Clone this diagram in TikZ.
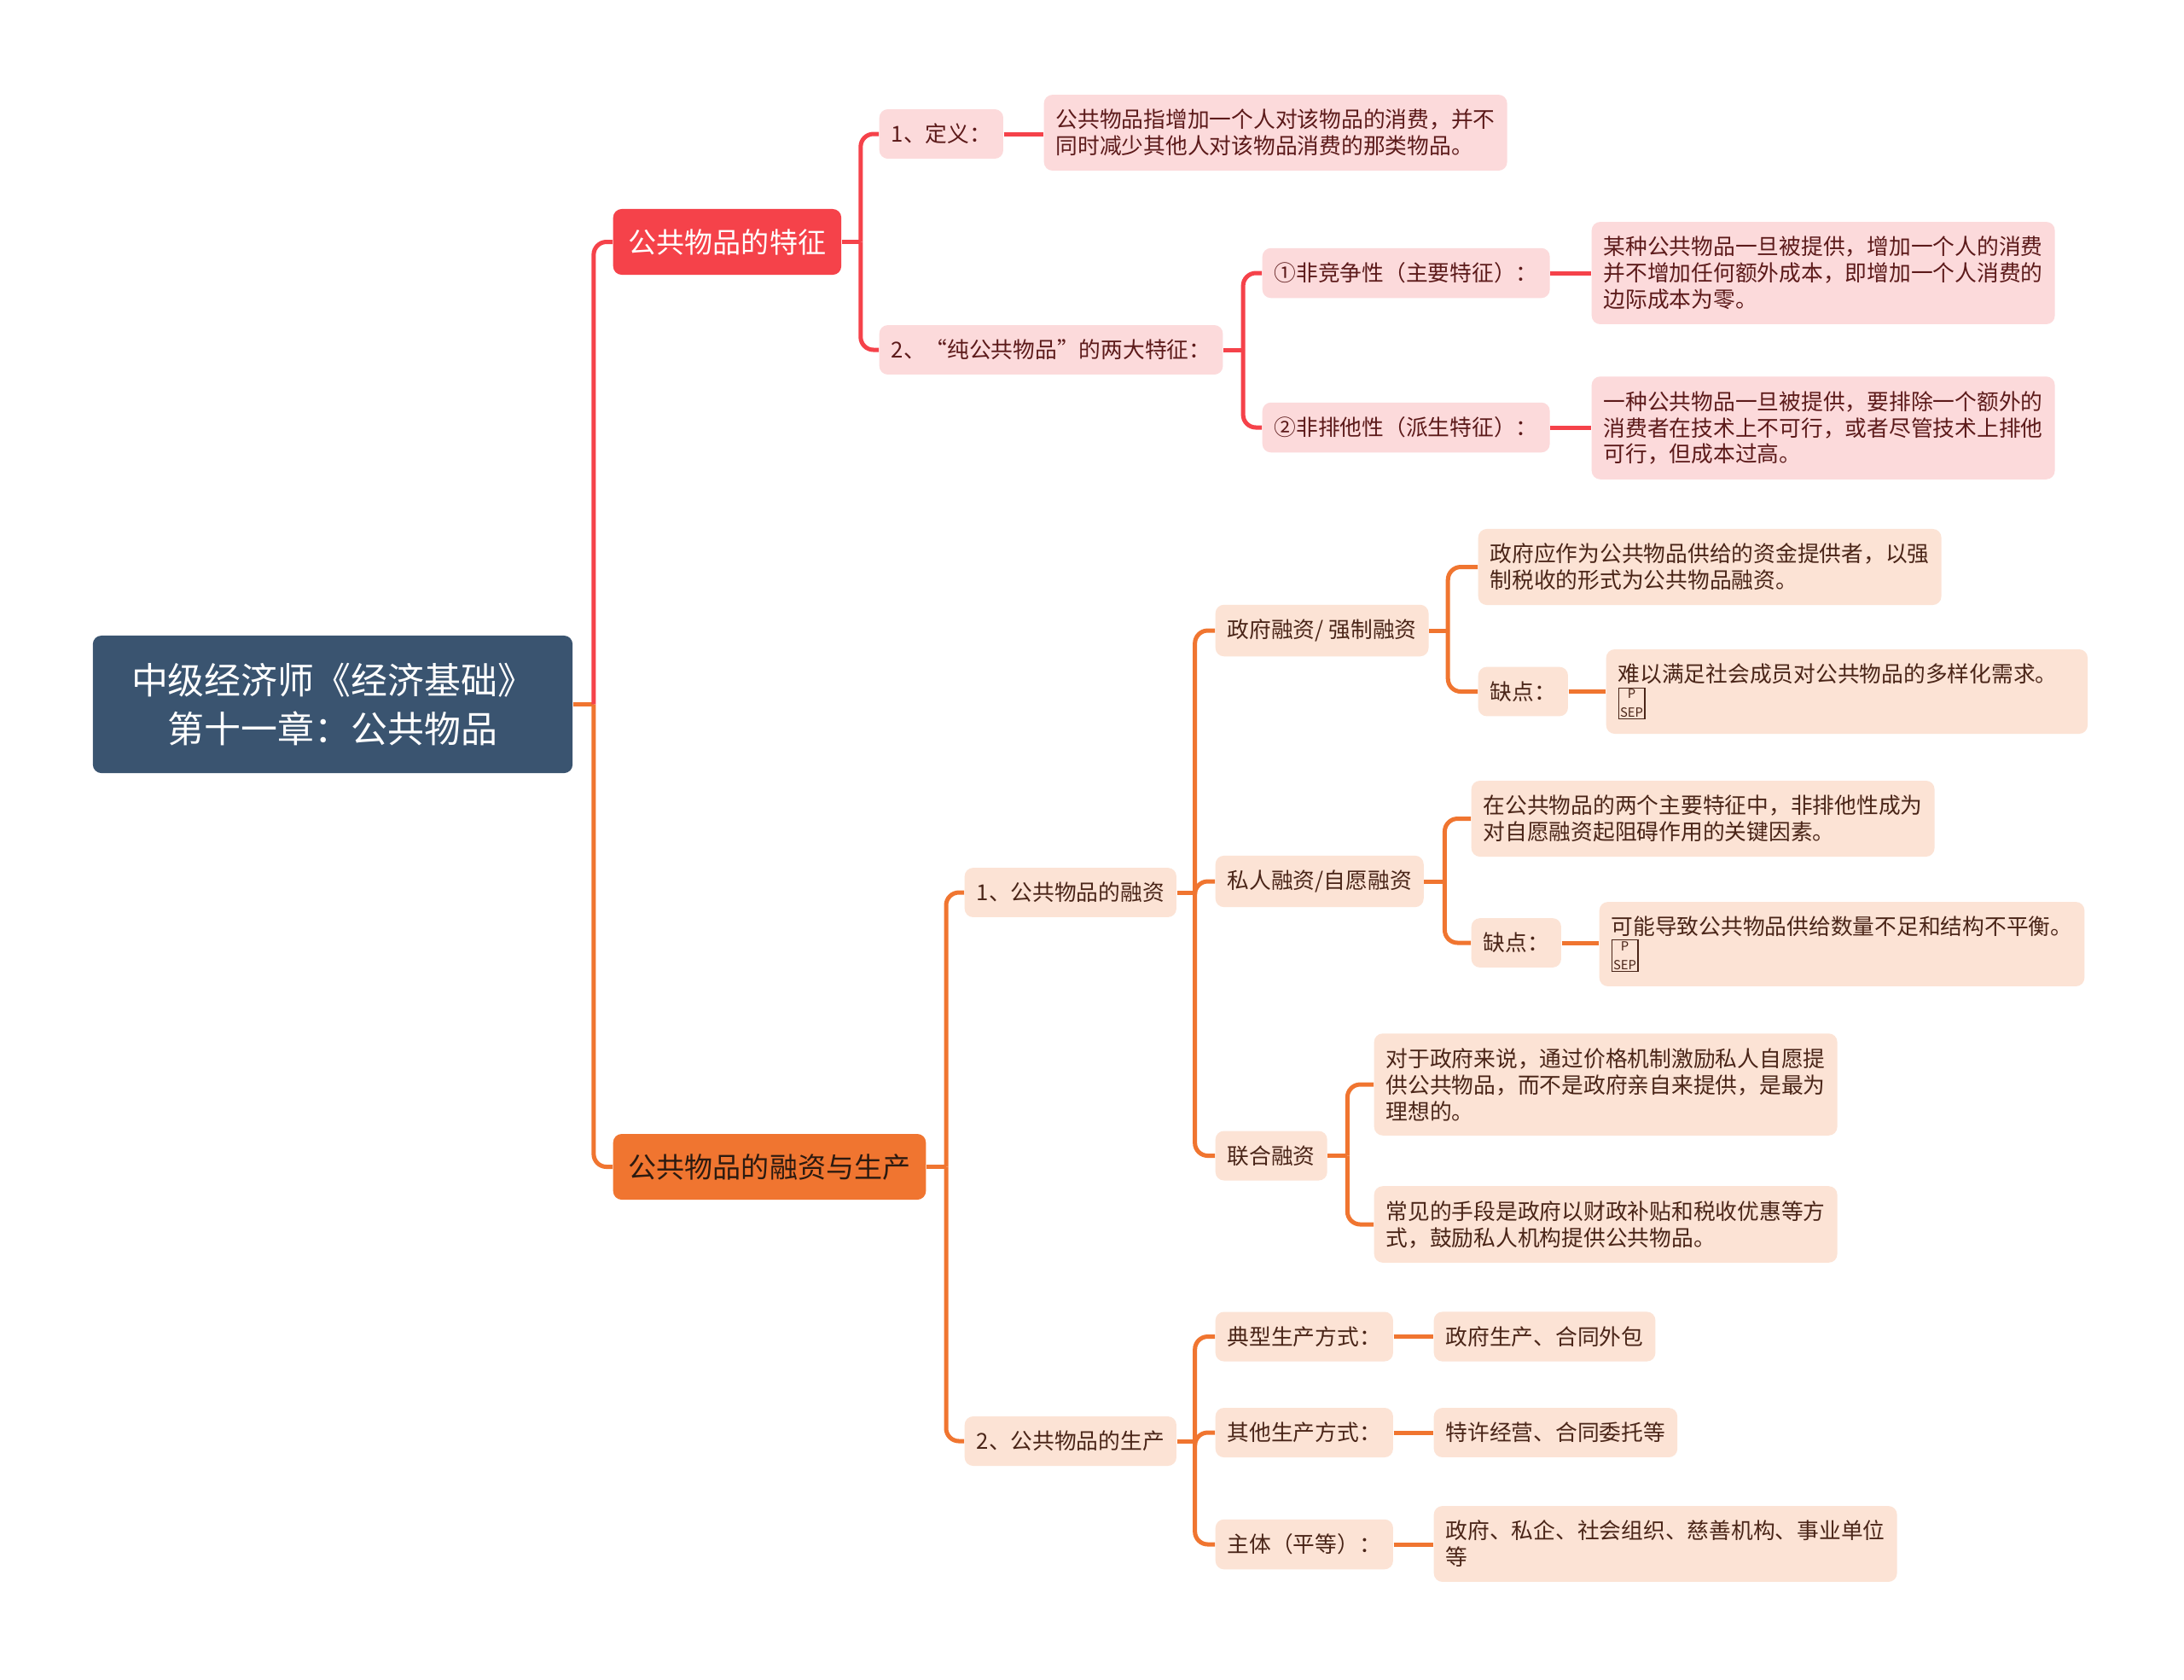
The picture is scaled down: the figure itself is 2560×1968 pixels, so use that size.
\documentclass[tikz,border=0pt]{standalone}
\usepackage{fontspec}
\setmainfont{Noto Sans CJK SC}
\usepackage{tikz}
\usetikzlibrary{positioning,calc}
\definecolor{rootblue}{HTML}{3A5470}
\definecolor{redmain}{HTML}{F5424A}
\definecolor{redpale}{HTML}{FCDADB}
\definecolor{redtext}{HTML}{5C1A1A}
\definecolor{orgmain}{HTML}{F07530}
\definecolor{orgpale}{HTML}{FCE3D5}
\definecolor{orgtext}{HTML}{4A2518}
\definecolor{orgdark}{HTML}{2B1A10}
\tikzset{
  rootbox/.style  = {fill=rootblue, text=white, rounded corners=0.1cm, align=center,
                     font=\fontsize{12.2}{16.3}\selectfont,
                     minimum width=5.62cm, minimum height=1.61cm},
  topic/.style    = {rounded corners=0.1cm, anchor=west, inner xsep=0.18cm,
                     minimum height=0.77cm, font=\fontsize{9.4}{11}\selectfont},
  redtopic/.style = {topic, fill=redmain, text=white},
  orgtopic/.style = {topic, fill=orgmain, text=orgdark},
  sub/.style      = {rounded corners=0.1cm, anchor=west, align=left,
                     inner xsep=0.14cm, inner ysep=0.17cm,
                     font=\fontsize{7.32}{8.8}\selectfont},
  redsub/.style   = {sub, fill=redpale, text=redtext},
  orgsub/.style   = {sub, fill=orgpale, text=orgtext},
  redwire/.style  = {draw=redmain, line width=0.05cm, rounded corners=0.15cm},
  orgwire/.style  = {draw=orgmain, line width=0.05cm, rounded corners=0.15cm}
}
\newcommand{\psepmark}{{\setlength{\fboxsep}{0.4pt}\setlength{\fboxrule}{0.3pt}%
  \fbox{\fontsize{4.2}{4.4}\selectfont\shortstack{P\\SEP}}}}

\begin{document}
\begin{tikzpicture}[x=0.01cm, y=-0.01cm]
\fill[white] (0,0) rectangle (2560,1968);
\useasboundingbox (0,0) rectangle (2560,1968);

% --- root ---
\node[rootbox] (root) at (390,825.5) {中级经济师《经济基础》\\第十一章：公共物品};

% --- main topics ---
\node[redtopic] (feat) at (718,283.5) {公共物品的特征};
\node[orgtopic] (fund) at (718,1367.5) {公共物品的融资与生产};

\path (root.east) ++(24,0) coordinate (s0);
\draw[orgwire] (root.east) -- (s0);
\draw[redwire] (s0) |- (feat.west);
\draw[orgwire] (s0) |- (fund.west);

% --- features branch ---
\node[redsub] (def)  at (1030,157) {1、定义：};
\node[redsub] (defl) at (1223,155.5)
  {公共物品指增加一个人对该物品的消费，并不\\同时减少其他人对该物品消费的那类物品。};
\node[redsub] (pure) at (1030,410) {2、“纯公共物品”的两大特征：};
\node[redsub] (nr)   at (1479,320) {①非竞争性（主要特征）：};
\node[redsub] (nrl)  at (1865,320)
  {某种公共物品一旦被提供，增加一个人的消费\\并不增加任何额外成本，即增加一个人消费的\\边际成本为零。};
\node[redsub] (ne)   at (1479,501) {②非排他性（派生特征）：};
\node[redsub] (nel)  at (1865,501.5)
  {一种公共物品一旦被提供，要排除一个额外的\\消费者在技术上不可行，或者尽管技术上排他\\可行，但成本过高。};

\path (feat.east) ++(22,0) coordinate (s1);
\draw[redwire] (feat.east) -- (s1);
\foreach \c in {def,pure} \draw[redwire] (s1) |- (\c.west);
\path (pure.east) ++(23,0) coordinate (s2);
\draw[redwire] (pure.east) -- (s2);
\foreach \c in {nr,ne} \draw[redwire] (s2) |- (\c.west);
\draw[redwire] (def.east) -- (def.east -| defl.west);
\draw[redwire] (nr.east) -- (nr.east -| nrl.west);
\draw[redwire] (ne.east) -- (ne.east -| nel.west);

% --- financing ---
\node[orgsub] (fin)   at (1130,1046) {1、公共物品的融资};
\node[orgsub] (gov)   at (1424,739) {政府融资/ 强制融资};
\node[orgsub] (govl)  at (1732,664.5)
  {政府应作为公共物品供给的资金提供者，以强\\制税收的形式为公共物品融资。};
\node[orgsub] (govd)  at (1732,810.5) {缺点：};
\node[orgsub, text width=5.36cm] (govdl) at (1882,810.5)
  {难以满足社会成员对公共物品的多样化需求。\\\psepmark};
\node[orgsub] (pri)   at (1424,1033) {私人融资/自愿融资};
\node[orgsub] (pril)  at (1724,959.5)
  {在公共物品的两个主要特征中，非排他性成为\\对自愿融资起阻碍作用的关键因素。};
\node[orgsub] (prid)  at (1724,1105) {缺点：};
\node[orgsub] (pridl) at (1874,1106.5)
  {可能导致公共物品供给数量不足和结构不平衡。\\\psepmark};
\node[orgsub] (joint) at (1424,1354.5) {联合融资};
\node[orgsub] (jl1)   at (1610,1271)
  {对于政府来说，通过价格机制激励私人自愿提\\供公共物品，而不是政府亲自来提供，是最为\\理想的。};
\node[orgsub] (jl2)   at (1610,1435)
  {常见的手段是政府以财政补贴和税收优惠等方\\式，鼓励私人机构提供公共物品。};

% --- production ---
\node[orgsub] (prod)  at (1130,1689) {2、公共物品的生产};
\node[orgsub] (typ)   at (1424,1566.5) {典型生产方式：};
\node[orgsub] (typl)  at (1680,1566.5) {政府生产、合同外包};
\node[orgsub] (oth)   at (1424,1679) {其他生产方式：};
\node[orgsub] (othl)  at (1680,1679) {特许经营、合同委托等};
\node[orgsub] (body)  at (1424,1810) {主体（平等）：};
\node[orgsub] (bodyl) at (1680,1809.5)
  {政府、私企、社会组织、慈善机构、事业单位\\等};

\path (fund.east) ++(23,0) coordinate (s3);
\draw[orgwire] (fund.east) -- (s3);
\foreach \c in {fin,prod} \draw[orgwire] (s3) |- (\c.west);

\path (fin.east) ++(21,0) coordinate (s4);
\draw[orgwire] (fin.east) -- (s4);
\foreach \c in {gov,pri,joint} \draw[orgwire] (s4) |- (\c.west);

\path (gov.east) ++(22,0) coordinate (s5);
\draw[orgwire] (gov.east) -- (s5);
\foreach \c in {govl,govd} \draw[orgwire] (s5) |- (\c.west);
\draw[orgwire] (govd.east) -- (govd.east -| govdl.west);

\path (pri.east) ++(24,0) coordinate (s6);
\draw[orgwire] (pri.east) -- (s6);
\foreach \c in {pril,prid} \draw[orgwire] (s6) |- (\c.west);
\draw[orgwire] (prid.east) -- (prid.east -| pridl.west);

\path (joint.east) ++(23,0) coordinate (s7);
\draw[orgwire] (joint.east) -- (s7);
\foreach \c in {jl1,jl2} \draw[orgwire] (s7) |- (\c.west);

\path (prod.east) ++(21,0) coordinate (s8);
\draw[orgwire] (prod.east) -- (s8);
\foreach \c in {typ,oth,body} \draw[orgwire] (s8) |- (\c.west);
\draw[orgwire] (typ.east) -- (typ.east -| typl.west);
\draw[orgwire] (oth.east) -- (oth.east -| othl.west);
\draw[orgwire] (body.east) -- (body.east -| bodyl.west);

\end{tikzpicture}
\end{document}
